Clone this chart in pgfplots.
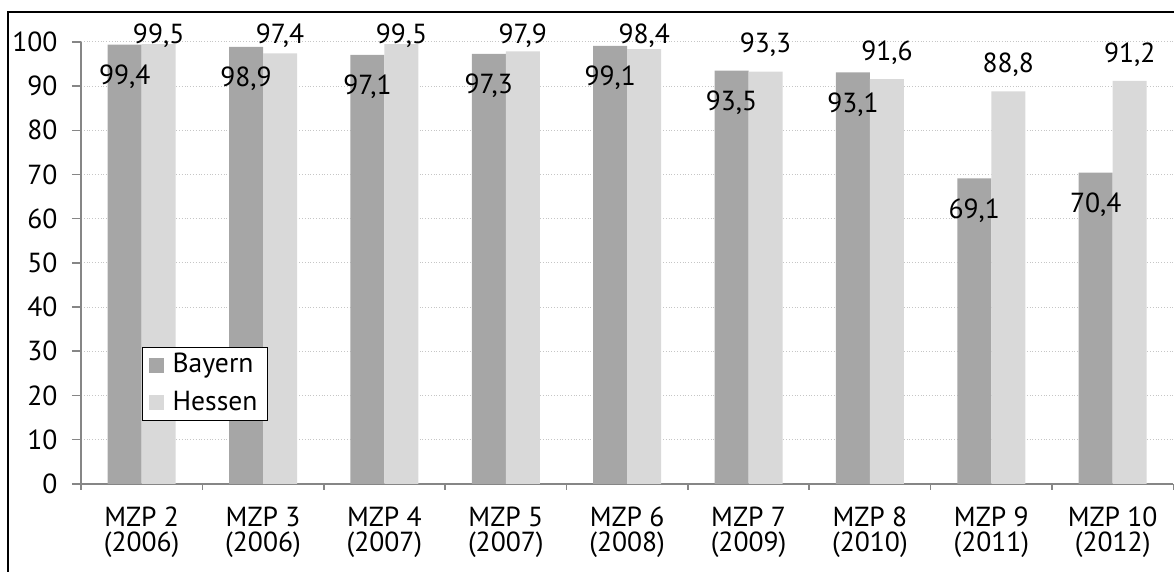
\documentclass[border=0pt]{standalone}
\usepackage{fontspec}
\setmainfont{PT Sans}
\usepackage{pgfplots}
\usepackage{pgfplotstable}
\pgfplotsset{compat=1.18}

\definecolor{bayern}{RGB}{166,166,166}
\definecolor{hessen}{RGB}{217,217,217}
\definecolor{axisgray}{RGB}{134,134,134}

% x: category index, hs: shift of the Hessen label (pt)
\pgfplotstableread{
x bay  hes  hs
0 99.4 99.5 4.2
1 98.9 97.4 8.8
2 97.1 99.5 4.2
3 97.3 97.9 7.7
4 99.1 98.4 6.6
5 93.5 93.3 13.3
6 93.1 91.6 13.3
7 69.1 88.8 13.3
8 70.4 91.2 13.3
}\data

\newcommand{\chartfont}{\fontsize{13.8}{12.5}\selectfont}

\begin{document}
\chartfont
\begin{tikzpicture}
\path (0pt,0pt) rectangle (587.5pt,286pt);
\draw[line width=0.6pt] (4pt,0pt) -- (4pt,280pt) -- (587.5pt,280pt);
\begin{axis}[
  at={(40.5pt,44pt)}, anchor=south west,
  scale only axis, width=546.5pt, height=221pt,
  clip=false,
  ybar=0pt, bar width=17pt,
  xmin=-0.5, xmax=8.5, ymin=0, ymax=100,
  xtick={0,...,8},
  xticklabels={{MZP 2\\(2006)},{MZP 3\\(2006)},{MZP 4\\(2007)},{MZP 5\\(2007)},{MZP 6\\(2008)},{MZP 7\\(2009)},{MZP 8\\(2010)},{MZP 9\\(2011)},{MZP 10\\(2012)}},
  minor xtick={-0.5,0.5,...,8.5},
  ytick={0,10,...,100},
  axis x line*=bottom, axis y line*=left,
  axis line style={axisgray, line width=0.8pt},
  tick align=outside,
  major tick length=4.5pt, minor tick length=3pt,
  major x tick style={draw=none},
  minor x tick style={axisgray, line width=0.8pt},
  ytick style={axisgray, line width=0.8pt},
  ymajorgrids,
  major grid style={densely dotted, gray!45, line width=0.5pt},
  /pgf/number format/assume math mode=true,
  tick label style={font=\chartfont, black},
  xticklabel style={align=center, yshift=-2.5pt},
  yticklabel style={xshift=-2.5pt},
  legend style={at={(0.056,0.31)}, anchor=north west, draw=black,
    line width=0.5pt, font=\chartfont, inner xsep=3pt, inner ysep=1pt,
    row sep=3pt, column sep=2.5pt},
  legend cell align=left,
  legend image code/.code={\fill[#1, draw=none] (0pt,-3.75pt) rectangle (7.5pt,3.75pt);},
  nodes near coords={\pgfmathprintnumber[fixed,fixed zerofill,precision=1,use comma]{\pgfplotspointmeta}},
  every node near coord/.append style={font=\chartfont, black, anchor=center},
]
\addplot[fill=bayern, draw=none,
  every node near coord/.append style={yshift=-16pt}]
  table[x=x, y=bay] {\data};
\addlegendentry{Bayern}
\addplot[fill=hessen, draw=none,
  visualization depends on={\thisrow{hs} \as \hs},
  every node near coord/.append style={yshift=\hs*1pt}]
  table[x=x, y=hes] {\data};
\addlegendentry{Hessen}
\end{axis}
\end{tikzpicture}
\end{document}
